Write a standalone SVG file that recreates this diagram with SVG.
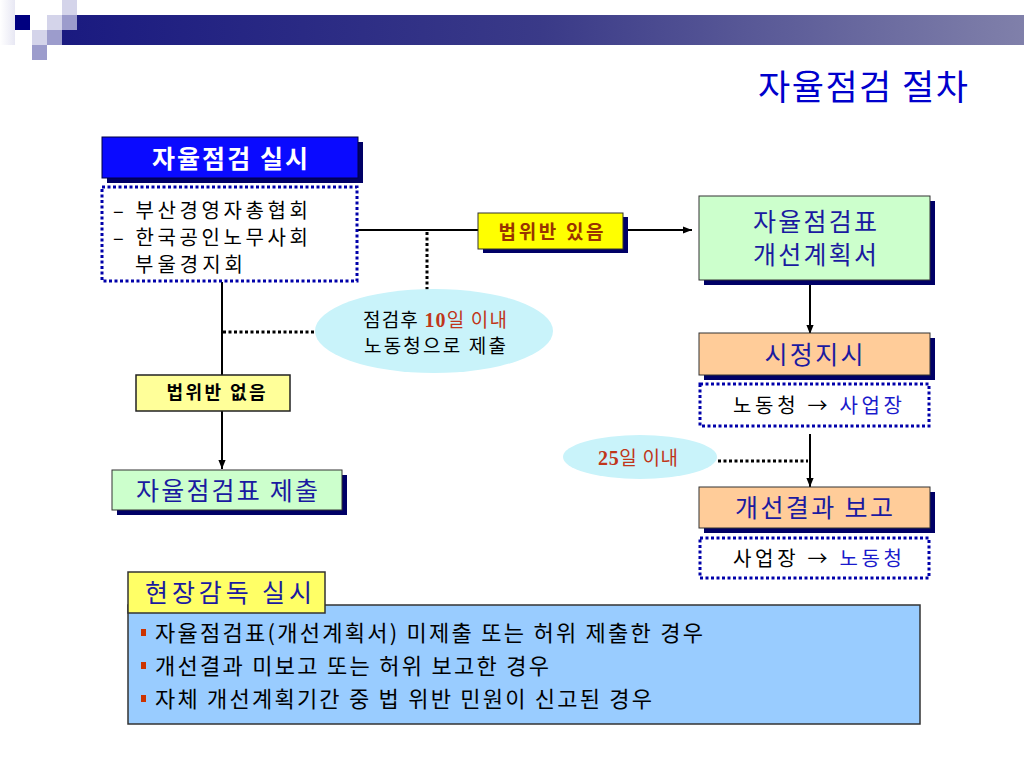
<svg xmlns="http://www.w3.org/2000/svg" width="1024" height="768" viewBox="0 0 1024 768">
<defs>
<linearGradient id="bar" x1="0" y1="0" x2="1" y2="0">
<stop offset="0" stop-color="#1a1a80"/>
<stop offset="0.5" stop-color="#3a3a88"/>
<stop offset="1" stop-color="#8080aa"/>
</linearGradient>
<linearGradient id="fadeL" x1="0" y1="0" x2="1" y2="0">
<stop offset="0" stop-color="#ffffff"/>
<stop offset="1" stop-color="#d8d8ec"/>
</linearGradient>
<marker id="arr" viewBox="0 0 10 10" refX="10" refY="5" markerWidth="9" markerHeight="9" markerUnits="userSpaceOnUse" orient="auto">
<path d="M0,1 L10,5 L0,9 Z" fill="#000"/>
</marker>
<style>
text{font-family:"Noto Sans CJK KR","Liberation Sans",sans-serif;}
.sh{fill:#000066;}
.blue{fill:#0a0aff;stroke:#000044;stroke-width:1;}
.green{fill:#ccffcc;stroke:#333;stroke-width:1;}
.peach{fill:#ffcc99;stroke:#333;stroke-width:1;}
.dot{fill:#fff;stroke:#0000aa;stroke-width:3;stroke-dasharray:3 2.5;}
.ell{fill:#c9f3fa;}
.t24{font-size:25px;fill:#1a1aa0;}
.t20{font-size:20px;fill:#000;}
.red{fill:#c0361a;}
.num{font-family:"Liberation Serif",serif;font-weight:bold;}
.ln{stroke:#000;stroke-width:2;fill:none;}
.dl{stroke:#000;stroke-width:3;stroke-dasharray:3 2.5;fill:none;}
.bul{fill:#cc3300;}
</style>
</defs>
<rect width="1024" height="768" fill="#fff"/>
<g id="header">
<rect x="62" y="15" width="962" height="30" fill="url(#bar)"/>
<rect x="0" y="0" width="15" height="45" fill="url(#fadeL)" opacity="0.6"/>
<rect x="15" y="15" width="15" height="15" fill="#000080"/>
<rect x="62" y="0" width="15" height="15" fill="#d4d4ea"/>
<rect x="47" y="15" width="15" height="15" fill="#d4d4ea"/>
<rect x="62" y="15" width="15" height="15" fill="#9c9ccc"/>
<rect x="32" y="30" width="15" height="15" fill="#d4d4ea"/>
<rect x="47" y="30" width="15" height="15" fill="#9c9ccc"/>
<rect x="32" y="45" width="15" height="15" fill="#9c9ccc"/>
</g>
<text id="title" x="863" y="100" font-size="35" fill="#0000cc" text-anchor="middle" textLength="210" lengthAdjust="spacing">자율점검 절차</text>
<g id="connectors">
<line class="ln" x1="357" y1="230" x2="692" y2="230" marker-end="url(#arr)"/>
<line class="dl" x1="427" y1="232" x2="427" y2="292"/>
<line class="dl" x1="223" y1="332" x2="316" y2="332"/>
<line class="ln" x1="222" y1="282" x2="222" y2="376"/>
<line class="ln" x1="222" y1="411" x2="222" y2="469" marker-end="url(#arr)"/>
<line class="ln" x1="810" y1="280" x2="810" y2="334" marker-end="url(#arr)"/>
<line class="ln" x1="810" y1="434" x2="810" y2="487" marker-end="url(#arr)"/>
<line class="dl" x1="718" y1="461" x2="808" y2="461"/>
</g>
<g id="n-start">
<rect class="sh" x="107" y="142" width="256" height="41"/>
<rect class="blue" x="102" y="137" width="256" height="41"/>
<text x="230" y="168" font-size="25" font-weight="bold" fill="#fff" text-anchor="middle" textLength="156" lengthAdjust="spacing">자율점검 실시</text>
</g>
<g id="n-orgs">
<rect class="dot" x="102" y="187" width="255" height="94"/>
<text class="t20" x="113" y="218" textLength="195" lengthAdjust="spacing">– 부산경영자총협회</text>
<text class="t20" x="113" y="245" textLength="195" lengthAdjust="spacing">– 한국공인노무사회</text>
<text class="t20" x="135" y="272" textLength="108" lengthAdjust="spacing">부울경지회</text>
</g>
<g id="n-violation">
<rect class="sh" x="483" y="217" width="145" height="36"/>
<rect x="478" y="213" width="145" height="36" fill="#ffff00" stroke="#333" stroke-width="1"/>
<text x="551" y="239" font-size="19" font-weight="bold" fill="#993300" text-anchor="middle" textLength="105" lengthAdjust="spacing">법위반 있음</text>
</g>
<g id="n-10days">
<ellipse class="ell" cx="434" cy="331" rx="119" ry="42"/>
<text x="363" y="327" font-size="19" fill="#000" textLength="144" lengthAdjust="spacing">점검후 <tspan class="num red" font-size="20">10</tspan><tspan class="red">일 이내</tspan></text>
<text x="435" y="353" font-size="19" fill="#000" text-anchor="middle" textLength="142" lengthAdjust="spacing">노동청으로 제출</text>
</g>
<g id="n-noviolation">
<rect x="136" y="375" width="154" height="36" fill="#ffff99" stroke="#222" stroke-width="1.5"/>
<text x="216" y="399" font-size="18" font-weight="bold" fill="#000" text-anchor="middle" textLength="99" lengthAdjust="spacing">법위반 없음</text>
</g>
<g id="n-submit">
<rect class="sh" x="117" y="475" width="230" height="40"/>
<rect class="green" x="112" y="470" width="230" height="40"/>
<text class="t24" x="227" y="500" text-anchor="middle" textLength="182" lengthAdjust="spacing">자율점검표 제출</text>
</g>
<g id="n-plan">
<rect class="sh" x="704" y="201" width="231" height="84"/>
<rect class="green" x="699" y="196" width="231" height="84"/>
<text class="t24" x="815" y="231" text-anchor="middle" textLength="124" lengthAdjust="spacing">자율점검표</text>
<text class="t24" x="815" y="264" text-anchor="middle" textLength="124" lengthAdjust="spacing">개선계획서</text>
</g>
<g id="n-order">
<rect class="sh" x="704" y="338" width="231" height="42"/>
<rect class="peach" x="699" y="333" width="231" height="42"/>
<text class="t24" x="814" y="364" text-anchor="middle" textLength="99" lengthAdjust="spacing">시정지시</text>
</g>
<g id="n-order-dir">
<rect class="dot" x="700" y="384" width="229" height="42"/>
<text x="733" y="413" font-size="20" fill="#000" textLength="169" lengthAdjust="spacing">노동청 → <tspan fill="#1a1acc">사업장</tspan></text>
</g>
<g id="n-25days">
<ellipse class="ell" cx="640" cy="457" rx="77" ry="22"/>
<text x="638" y="465" font-size="19" text-anchor="middle" textLength="80" lengthAdjust="spacing"><tspan class="num red" font-size="20">25</tspan><tspan class="red">일 이내</tspan></text>
</g>
<g id="n-report">
<rect class="sh" x="704" y="492" width="231" height="41"/>
<rect class="peach" x="699" y="487" width="231" height="41"/>
<text class="t24" x="814" y="517" text-anchor="middle" textLength="158" lengthAdjust="spacing">개선결과 보고</text>
</g>
<g id="n-report-dir">
<rect class="dot" x="700" y="538" width="229" height="40"/>
<text x="733" y="566" font-size="20" fill="#000" textLength="169" lengthAdjust="spacing">사업장 → <tspan fill="#1a1acc">노동청</tspan></text>
</g>
<g id="n-inspect">
<rect x="128" y="605" width="792" height="119" fill="#99ccff" stroke="#333" stroke-width="1.5"/>
<rect x="128" y="572" width="197" height="41" fill="#ffff66" stroke="#333" stroke-width="1.5"/>
<text x="145" y="602" font-size="25" fill="#1a1aa0" textLength="167" lengthAdjust="spacing">현장감독 실시</text>
<rect class="bul" x="141" y="629" width="5" height="7"/>
<text x="155" y="641" font-size="22" fill="#000" textLength="548" lengthAdjust="spacing">자율점검표(개선계획서) 미제출 또는 허위 제출한 경우</text>
<rect class="bul" x="141" y="662" width="5" height="7"/>
<text x="155" y="674" font-size="22" fill="#000" textLength="394" lengthAdjust="spacing">개선결과 미보고 또는 허위 보고한 경우</text>
<rect class="bul" x="141" y="695" width="5" height="7"/>
<text x="155" y="707" font-size="22" fill="#000" textLength="497" lengthAdjust="spacing">자체 개선계획기간 중 법 위반 민원이 신고된 경우</text>
</g>
</svg>
